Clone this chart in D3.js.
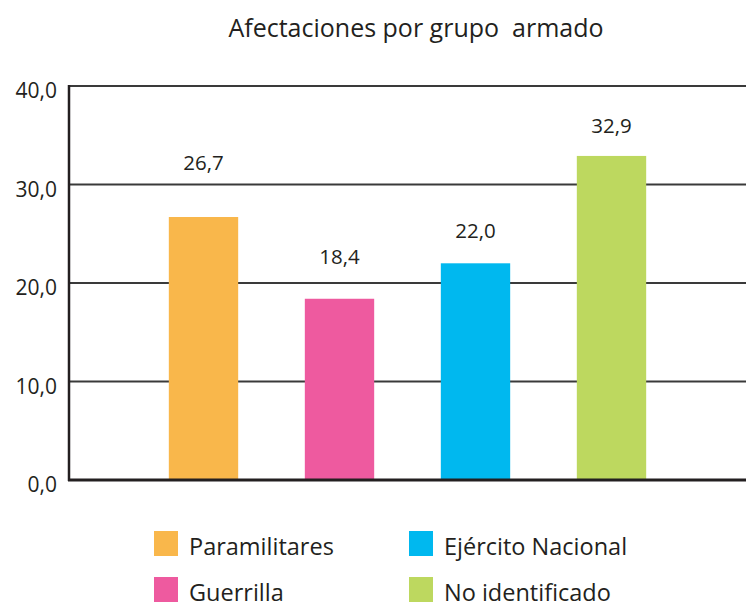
<!DOCTYPE html>
<html>
<head>
<meta charset="utf-8">
<script src="https://cdn.jsdelivr.net/npm/d3@7"></script>
<style>
  body { margin: 0; background: #fff; }
  text { font-family: "Open Sans", sans-serif; fill: #231f20; white-space: pre; }
</style>
</head>
<body>
<svg id="chart" width="746" height="603"></svg>
<script>
// data
var categories = ["Paramilitares", "Guerrilla", "Ejército Nacional", "No identificado"];
var values = [26.7, 18.4, 22.0, 32.9];
var colors = ["#f9b74b", "#ee5a9f", "#00b8ef", "#bdd85f"];
var yTicks = [0, 10, 20, 30, 40];
var title = "Afectaciones por grupo  armado";

// label lift above each bar (pixels), as in the original layout
var labelLift = [47, 35, 25, 23];

var fmt = function(v){ return d3.format(".1f")(v).replace(".", ","); };

var svg = d3.select("#chart");

var mLeft = 69, mRight = 746, mTop = 86, mBottom = 480;

var x = d3.scaleBand()
    .domain(categories)
    .range([135.5, 679.5])
    .paddingInner(0.49)
    .paddingOuter(0.245);

var y = d3.scaleLinear()
    .domain([0, 40])
    .range([mBottom, mTop]);

svg.append("text")
    .attr("x", 416)
    .attr("y", 37)
    .attr("text-anchor", "middle")
    .style("font-size", "25px")
    .text(title);

// gridlines
svg.selectAll(".grid")
    .data(yTicks.filter(function(d){ return d > 0; }))
    .enter()
    .append("line")
    .attr("class", "grid")
    .attr("x1", mLeft)
    .attr("x2", mRight)
    .attr("y1", function(d){ return y(d); })
    .attr("y2", function(d){ return y(d); })
    .style("stroke", "#3a3a3a")
    .style("stroke-width", 2);

// y axis
var yAxis = d3.axisLeft(y)
    .tickValues(yTicks)
    .tickSize(0)
    .tickPadding(12)
    .tickFormat(fmt);

var gy = svg.append("g")
    .attr("transform", "translate(" + mLeft + ",0)")
    .call(yAxis);
gy.select(".domain").remove();
gy.selectAll("text")
    .style("font-size", "21px")
    .style("font-family", "'Open Sans', sans-serif")
    .style("fill", "#231f20")
    .attr("dy", "0.55em");

// bars
svg.selectAll(".bar")
    .data(values)
    .enter()
    .append("rect")
    .attr("class", "bar")
    .attr("x", function(d, i){ return x(categories[i]); })
    .attr("width", x.bandwidth())
    .attr("y", function(d){ return y(d); })
    .attr("height", function(d){ return y(0) - y(d); })
    .style("fill", function(d, i){ return colors[i]; });

// value labels
svg.selectAll(".val")
    .data(values)
    .enter()
    .append("text")
    .attr("class", "val")
    .attr("x", function(d, i){ return x(categories[i]) + x.bandwidth() / 2; })
    .attr("y", function(d, i){ return y(d) - labelLift[i]; })
    .attr("text-anchor", "middle")
    .style("font-size", "20.5px")
    .text(fmt);

// axis lines
svg.append("line")
    .attr("x1", mLeft).attr("x2", mLeft)
    .attr("y1", mTop - 1).attr("y2", mBottom + 1)
    .style("stroke", "#231f20")
    .style("stroke-width", 2.5);

svg.append("line")
    .attr("x1", mLeft - 1).attr("x2", mRight)
    .attr("y1", mBottom).attr("y2", mBottom)
    .style("stroke", "#231f20")
    .style("stroke-width", 3);

// legend
var legend = svg.selectAll(".legend")
    .data(categories)
    .enter()
    .append("g")
    .attr("class", "legend")
    .attr("transform", function(d, i){
        var col = Math.floor(i / 2), row = i % 2;
        return "translate(" + [154 + col * 255, 531 + row * 46] + ")";
    });

legend.append("rect")
    .attr("width", 24)
    .attr("height", 25)
    .style("fill", function(d, i){ return colors[i]; });

legend.append("text")
    .attr("x", 35)
    .attr("y", 24)
    .style("font-size", "23.5px")
    .text(function(d){ return d; });
</script>
</body>
</html>
